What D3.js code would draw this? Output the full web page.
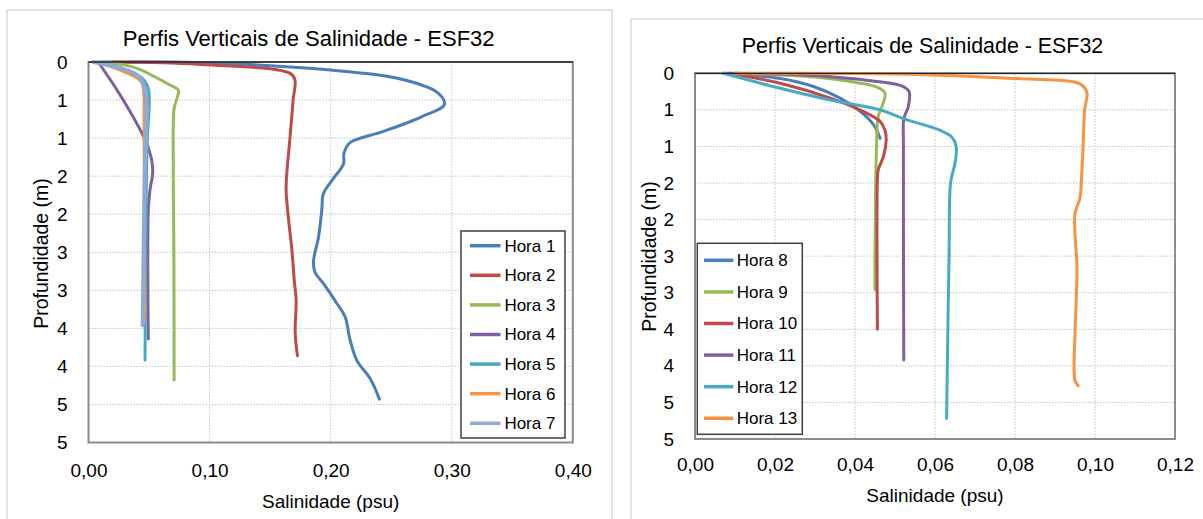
<!DOCTYPE html>
<html>
<head>
<meta charset="utf-8">
<script src="https://cdn.jsdelivr.net/npm/d3@7"></script>
<style>
  html, body { margin: 0; padding: 0; background: #ffffff; }
  svg { display: block; font-family: "Liberation Sans", Arial, sans-serif; }
</style>
</head>
<body>
<svg id="chart" width="1203" height="519"></svg>
<script>
// ---------------- DATA ----------------
const chartTitle = "Perfis Verticais de Salinidade - ESF32";
const xAxisTitle = "Salinidade (psu)";
const yAxisTitle = "Profundidade (m)";

// depth ticks (m) and their printed labels (Excel rounding, 0 decimals)
const depthTicks = [0, 0.5, 1, 1.5, 2, 2.5, 3, 3.5, 4, 4.5, 5];
const depthTickLabels = ["0", "1", "1", "2", "2", "3", "3", "4", "4", "5", "5"];

const leftSalTicks = [0, 0.1, 0.2, 0.3, 0.4];
const leftSalTickLabels = ["0,00", "0,10", "0,20", "0,30", "0,40"];
const rightSalTicks = [0, 0.02, 0.04, 0.06, 0.08, 0.10, 0.12];
const rightSalTickLabels = ["0,00", "0,02", "0,04", "0,06", "0,08", "0,10", "0,12"];

const leftSeriesNames = ["Hora 1", "Hora 2", "Hora 3", "Hora 4", "Hora 5", "Hora 6", "Hora 7"];
const rightSeriesNames = ["Hora 8", "Hora 9", "Hora 10", "Hora 11", "Hora 12", "Hora 13"];

// each profile: [salinity (psu), depth (m)]
const hora1 = [[0.010,0],[0.090,0.005],[0.200,0.105],[0.257,0.22],[0.288,0.40],[0.294,0.556],[0.275,0.72],[0.243,0.915],[0.216,1.06],[0.211,1.20],[0.2106,1.34],[0.2023,1.53],[0.194,1.73],[0.1927,1.94],[0.190,2.30],[0.1858,2.62],[0.187,2.76],[0.194,2.91],[0.205,3.17],[0.212,3.35],[0.216,3.65],[0.2216,3.92],[0.2326,4.16],[0.2403,4.43]];
const hora2 = [[0.020,0],[0.090,0.03],[0.1666,0.15],[0.1705,0.236],[0.169,0.50],[0.1665,0.98],[0.1638,1.46],[0.1632,1.68],[0.165,2.03],[0.168,2.47],[0.170,2.88],[0.1715,3.13],[0.1707,3.56],[0.1726,3.86]];
const hora3 = [[0.015,0],[0.040,0.083],[0.0646,0.28],[0.0742,0.37],[0.073,0.48],[0.0707,0.61],[0.070,1.35],[0.0705,2.50],[0.0707,4.18]];
const hora4 = [[0.008,0],[0.026,0.43],[0.044,0.93],[0.048,1.07],[0.0522,1.29],[0.053,1.46],[0.0508,1.68],[0.0494,1.94],[0.0494,3.64]];
const hora5 = [[0.010,0],[0.044,0.21],[0.0494,0.35],[0.0502,0.52],[0.0486,1.00],[0.0475,2.00],[0.0467,3.92]];
const hora6 = [[0.008,0],[0.0426,0.24],[0.0453,0.35],[0.0459,0.78],[0.046,2.00],[0.0462,3.40]];
const hora7 = [[0.004,0],[0.040,0.17],[0.0467,0.35],[0.048,0.52],[0.0467,1.35],[0.0455,2.50],[0.0448,3.46]];

const hora8  = [[0.0071,0],[0.0213,0.07],[0.0296,0.18],[0.0363,0.34],[0.0413,0.52],[0.0446,0.70],[0.0463,0.89]];
const hora9  = [[0.010,0],[0.030,0.05],[0.0396,0.12],[0.0455,0.19],[0.0475,0.27],[0.0467,0.46],[0.0458,0.59],[0.0454,0.96],[0.045,2.55],[0.045,2.96]];
const hora10 = [[0.00875,0],[0.0213,0.137],[0.0338,0.34],[0.042,0.52],[0.0463,0.66],[0.0475,0.78],[0.0478,0.91],[0.0471,1.14],[0.0458,1.32],[0.0456,1.46],[0.0456,3.50]];
const hora11 = [[0.008,0],[0.021,0.01],[0.034,0.046],[0.046,0.115],[0.0515,0.17],[0.0535,0.25],[0.0533,0.46],[0.0522,0.62],[0.0521,0.96],[0.0522,3.92]];
const hora12 = [[0.0071,0],[0.0213,0.205],[0.0338,0.365],[0.0463,0.50],[0.0521,0.62],[0.0613,0.78],[0.0642,0.87],[0.0653,1.00],[0.065,1.23],[0.0642,1.41],[0.0638,1.55],[0.0635,2.55],[0.0633,3.19],[0.0629,4.72]];
const hora13 = [[0.010,0],[0.040,0.003],[0.0596,0.023],[0.0796,0.07],[0.0946,0.115],[0.0967,0.16],[0.098,0.27],[0.0974,0.50],[0.097,1.05],[0.0966,1.46],[0.0963,1.69],[0.095,1.92],[0.095,2.19],[0.0955,2.65],[0.0953,3.10],[0.095,3.56],[0.095,4.20],[0.0958,4.27]];

const leftSeries = [hora1, hora2, hora3, hora4, hora5, hora6, hora7];
const rightSeries = [hora8, hora9, hora10, hora11, hora12, hora13];

const leftColors = ["#4A7EBB", "#BE4B48", "#98B954", "#7D60A0", "#46AAC5", "#F69240", "#8FAAD6"];
const rightColors = ["#4A7EBB", "#98B954", "#BE4B48", "#7D60A0", "#46AAC5", "#F69240"];

// ---------------- DRAWING ----------------
const svg = d3.select("#chart");

function drawPanel(cfg) {
  const g = svg.append("g");
  // outer chart frame
  g.append("rect")
    .attr("x", cfg.frame[0]).attr("y", cfg.frame[1])
    .attr("width", cfg.frame[2]).attr("height", cfg.frame[3])
    .attr("fill", "#fff").attr("stroke", "#D9D9D9").attr("stroke-width", 1.5);

  const x = d3.scaleLinear().domain(cfg.xDomain).range([cfg.plot[0], cfg.plot[1]]);
  const y = d3.scaleLinear().domain([0, 5]).range([cfg.plot[2], cfg.plot[3]]);

  // grid lines
  g.append("g").selectAll("line.h")
    .data(depthTicks.filter(d => d > 0 && d < 5))
    .join("line")
    .attr("x1", x.range()[0]).attr("x2", x.range()[1])
    .attr("y1", d => y(d)).attr("y2", d => y(d))
    .attr("stroke", "#C4C4C4").attr("stroke-width", 1).attr("stroke-dasharray", "1.5,1.5");
  g.append("g").selectAll("line.v")
    .data(cfg.xTicks.slice(1, -1))
    .join("line")
    .attr("x1", d => x(d)).attr("x2", d => x(d))
    .attr("y1", y.range()[0]).attr("y2", y.range()[1])
    .attr("stroke", "#C4C4C4").attr("stroke-width", 1).attr("stroke-dasharray", "1.5,1.5");

  // plot border
  g.append("rect")
    .attr("x", x.range()[0]).attr("y", y.range()[0])
    .attr("width", x.range()[1] - x.range()[0]).attr("height", y.range()[1] - y.range()[0])
    .attr("fill", "none").attr("stroke", "#8C8C8C").attr("stroke-width", 2);

  // series lines
  const line = d3.line()
    .x(p => x(p[0])).y(p => y(p[1]))
    .curve(d3.curveCatmullRom.alpha(0.5));
  cfg.series.forEach((s, i) => {
    g.append("path").datum(s)
      .attr("d", line)
      .attr("fill", "none")
      .attr("stroke", cfg.colors[i])
      .attr("stroke-width", cfg.widths ? cfg.widths[i] : 3)
      .attr("stroke-linejoin", "round").attr("stroke-linecap", "round");
  });

  // top axis line (x axis crossing at depth 0)
  g.append("line")
    .attr("x1", x.range()[0]).attr("x2", x.range()[1])
    .attr("y1", y(0)).attr("y2", y(0))
    .attr("stroke", "#262626").attr("stroke-width", 1.3);

  // y axis
  const yAxis = d3.axisLeft(y).tickValues(depthTicks)
    .tickFormat((d, i) => depthTickLabels[i]).tickSize(0).tickPadding(cfg.yPad);
  const ya = g.append("g").attr("transform", `translate(${x.range()[0]},0)`).call(yAxis);
  ya.select(".domain").remove();
  ya.selectAll("text").attr("font-size", 19).attr("fill", "#000")
    .attr("font-family", "Liberation Sans, Arial, sans-serif");

  // x axis (labels at bottom)
  const xAxis = d3.axisBottom(x).tickValues(cfg.xTicks)
    .tickFormat((d, i) => cfg.xLabels[i]).tickSize(0).tickPadding(cfg.xPad);
  const xa = g.append("g").attr("transform", `translate(0,${y.range()[1]})`).call(xAxis);
  xa.select(".domain").remove();
  xa.selectAll("text").attr("font-size", 19).attr("fill", "#000")
    .attr("font-family", "Liberation Sans, Arial, sans-serif");

  // titles
  g.append("text").text(chartTitle)
    .attr("x", cfg.titlePos[0]).attr("y", cfg.titlePos[1])
    .attr("text-anchor", "middle").attr("font-size", cfg.titleSize).attr("fill", "#000");
  g.append("text").text(xAxisTitle)
    .attr("x", (x.range()[0] + x.range()[1]) / 2).attr("y", cfg.xTitleY)
    .attr("text-anchor", "middle").attr("font-size", 19).attr("fill", "#000");
  g.append("text").text(yAxisTitle)
    .attr("transform", `translate(${cfg.yTitlePos[0]},${cfg.yTitlePos[1]}) rotate(-90)`)
    .attr("text-anchor", "middle").attr("font-size", 19.5).attr("fill", "#000");

  // legend
  const L = cfg.legend;
  g.append("rect")
    .attr("x", L.box[0]).attr("y", L.box[1]).attr("width", L.box[2]).attr("height", L.box[3])
    .attr("fill", "#fff").attr("stroke", "#404040").attr("stroke-width", 1.5);
  cfg.names.forEach((n, i) => {
    const yy = L.y0 + i * L.step;
    g.append("line")
      .attr("x1", L.lx0).attr("x2", L.lx1).attr("y1", yy).attr("y2", yy)
      .attr("stroke", cfg.colors[i]).attr("stroke-width", 3.5);
    g.append("text").text(n)
      .attr("x", L.tx).attr("y", yy).attr("dy", "0.35em")
      .attr("font-size", 17).attr("fill", "#000");
  });
}

drawPanel({
  frame: [7, 10, 605, 530],
  plot: [88.5, 572.8, 62, 442.5],
  xDomain: [0, 0.4],
  xTicks: leftSalTicks, xLabels: leftSalTickLabels,
  series: leftSeries, colors: leftColors, names: leftSeriesNames,
  widths: [3, 3, 3, 3, 3, 3, 4],
  yPad: 21, xPad: 21,
  titlePos: [308.7, 46], titleSize: 22,
  xTitleY: 508, yTitlePos: [48, 253.5],
  legend: { box: [461, 231, 104, 207], y0: 245.7, step: 29.6, lx0: 470, lx1: 500.5, tx: 504.4 }
});

drawPanel({
  frame: [631, 19, 600, 530],
  plot: [695, 1175, 73.3, 439],
  xDomain: [0, 0.12],
  xTicks: rightSalTicks, xLabels: rightSalTickLabels,
  series: rightSeries, colors: rightColors, names: rightSeriesNames,
  yPad: 21, xPad: 18.5,
  titlePos: [922.5, 53], titleSize: 21.4,
  xTitleY: 502, yTitlePos: [656, 256.5],
  legend: { box: [697.3, 243.3, 105, 191], y0: 260.3, step: 31.6, lx0: 704, lx1: 733.3, tx: 736.7 }
});
</script>
</body>
</html>
